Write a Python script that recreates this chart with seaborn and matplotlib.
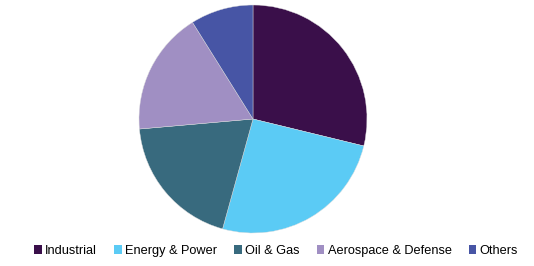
import matplotlib
matplotlib.use("Agg")
import matplotlib.pyplot as plt
import seaborn as sns
from matplotlib.patches import Patch

categories = ["Industrial", "Energy & Power", "Oil & Gas", "Aerospace & Defense", "Others"]
shares = [28.8, 25.5, 19.3, 17.5, 8.9]
colors = ["#3A0F4A", "#5BCBF5", "#386A7E", "#A08FC3", "#4755A5"]

sns.set_theme(style="white")
plt.rcParams['font.family'] = ['Liberation Sans', 'DejaVu Sans']

W, H = 534, 266
fig = plt.figure(figsize=(W / 100, H / 100), dpi=100)
cx, cy, r = 253, 119, 114
ax = fig.add_axes([(cx - r) / W, (H - cy - r) / H, 2 * r / W, 2 * r / H])
ax.pie(shares, colors=colors, startangle=90, counterclock=False,
       wedgeprops=dict(linewidth=0.3, edgecolor="#dddddd"))
ax.set_xlim(-1, 1)
ax.set_ylim(-1, 1)
ax.set_aspect("equal")
ax.axis("off")

handles = [Patch(facecolor=c, edgecolor="none") for c in colors]
fig.legend(handles, categories, loc="center", bbox_to_anchor=(276 / W, 1 - 251 / H),
           ncol=5, frameon=False, fontsize=9.2, handlelength=0.6, handleheight=0.6,
           handletextpad=0.25, columnspacing=1.35, borderpad=0, labelcolor="black")

fig.savefig("out.png", dpi=100)
